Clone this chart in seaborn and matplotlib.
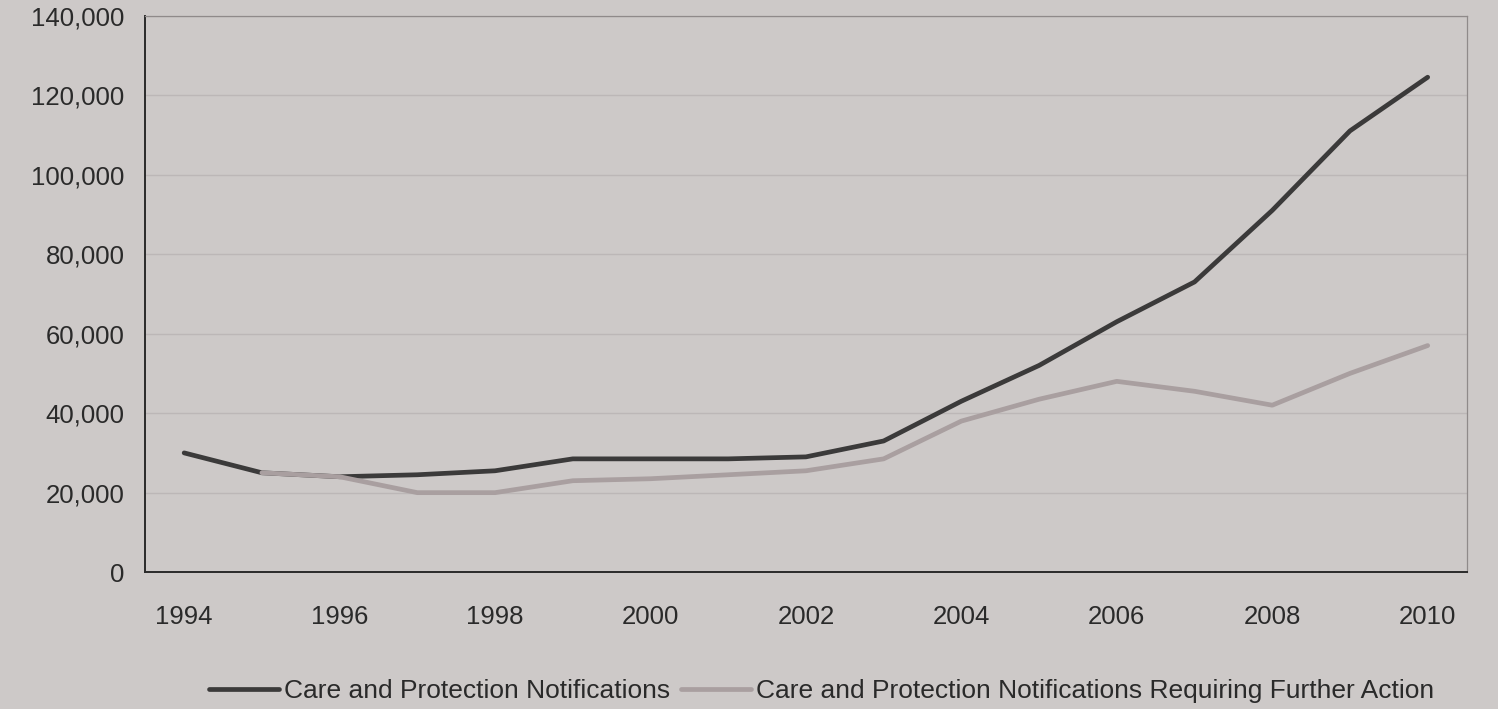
import matplotlib
matplotlib.use("Agg")
import matplotlib.pyplot as plt
import matplotlib.ticker as mticker
import numpy as np
import pandas as pd
import seaborn as sns

# Annual notification counts
years = list(range(1994, 2011))
notifications = [30000, 25000, 24000, 24500, 25500, 28500, 28500, 28500, 29000,
                 33000, 43000, 52000, 63000, 73000, 91000, 111000, 124500]
further_action = [np.nan, 25000, 24000, 20000, 20000, 23000, 23500, 24500, 25500,
                  28500, 38000, 43500, 48000, 45500, 42000, 50000, 57000]

series_names = ["Care and Protection Notifications",
                "Care and Protection Notifications Requiring Further Action"]
year_labels = [str(y) for y in range(1994, 2011, 2)]
y_ticks = list(range(0, 140001, 20000))

df = pd.concat([
    pd.DataFrame({"year": years, "count": notifications, "series": series_names[0]}),
    pd.DataFrame({"year": years, "count": further_action, "series": series_names[1]}),
]).dropna()

sns.set_theme(style="white")
plt.rcParams["font.family"] = ["Liberation Sans", "DejaVu Sans"]

paper = "#cdc9c8"
fig = plt.figure(figsize=(14.98, 7.09), dpi=100, facecolor=paper)
ax = fig.add_axes([0.097, 0.193, 0.882, 0.785])
ax.set_facecolor(paper)

palette = {series_names[0]: "#3b3a3a", series_names[1]: "#a99fa0"}
sns.lineplot(data=df, x="year", y="count", hue="series", palette=palette,
             linewidth=3.4, ax=ax, legend=True)

ax.set_xlim(1993.5, 2010.5)
ax.set_ylim(0, 140000)

# category-style x axis: ticks at boundaries, labels on every other year
ax.xaxis.set_major_locator(mticker.FixedLocator(list(range(1994, 2011, 2))))
ax.xaxis.set_major_formatter(mticker.FixedFormatter(year_labels))
ax.xaxis.set_minor_locator(mticker.FixedLocator(np.arange(1993.5, 2011, 1.0)))
ax.tick_params(axis="x", which="major", length=0, pad=24, labelsize=18.5, labelcolor="#2a2a2a")
ax.tick_params(axis="x", which="minor", length=8, width=1.2, color="#2a2a2a", direction="out")

ax.set_yticks(y_ticks)
ax.yaxis.set_major_formatter(mticker.FuncFormatter(lambda v, p: f"{int(v):,}"))
ax.tick_params(axis="y", length=7, width=1.2, color="#2a2a2a", direction="out",
               labelsize=18.5, labelcolor="#2a2a2a", pad=8)

ax.grid(axis="y", color="#bcb7b7", linewidth=1.0)
ax.set_axisbelow(True)

for side in ["left", "bottom"]:
    ax.spines[side].set_color("#2a2a2a")
    ax.spines[side].set_linewidth(1.4)
for side in ["top", "right"]:
    ax.spines[side].set_color("#8f8a8a")
    ax.spines[side].set_linewidth(0.9)

ax.set_xlabel("")
ax.set_ylabel("")

handles, labels = ax.get_legend_handles_labels()
ax.legend(handles, labels, loc="upper center", bbox_to_anchor=(0.512, -0.15),
          ncol=2, frameon=False, fontsize=19, handlelength=2.65,
          handletextpad=0.2, columnspacing=0.4, labelcolor="#2a2a2a")

fig.savefig("out.png", dpi=100, facecolor=paper)
